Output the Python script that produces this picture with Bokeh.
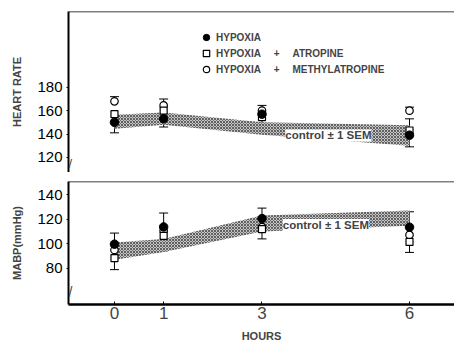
from bokeh.plotting import figure
from bokeh.models import (FixedTicker, Span, Label, Legend, LegendItem, Whisker,
                          TeeHead, ColumnDataSource, Range1d)
from bokeh.layouts import column
from bokeh.embed import file_html
from bokeh.resources import INLINE

# ---------------- data ----------------
hours = [0, 1, 3, 6]
hour_ticks = [0, 1, 3, 6]
hr_ticks = [120, 140, 160, 180]
mabp_ticks = [80, 100, 120, 140]

legend_labels = ["HYPOXIA",
                 "HYPOXIA\u2003 + \u2003ATROPINE",
                 "HYPOXIA\u2003 + \u2003METHYLATROPINE"]
control_label = "control \u00b1 1 SEM"

# Heart rate (beats/min)
hr_control_mean = [150.5, 153.2, 144.7, 138.7]
hr_control_sem = [6.0, 5.2, 5.3, 8.7]
hr_hypoxia = [150, 153, 157, 139]
hr_hypoxia_sem = [9, 7, 12.5, 10]          # drawn downward
hr_atropine = [157, 160, 154.5, 143]
hr_atropine_sem = [0, 0, 0, 10]            # drawn upward
hr_methyl = [168, 164.5, 160, 160]
hr_methyl_sem = [4, 5.5, 4.5, 3]           # drawn upward

# Mean arterial blood pressure (mmHg)
mabp_control_mean = [94.0, 98.6, 116.5, 120.8]
mabp_control_sem = [7.0, 5.2, 6.5, 6.2]
mabp_hypoxia = [99.7, 113.7, 120.5, 113.5]
mabp_hypoxia_sem = [9, 11.3, 8.5, 12.5]    # drawn upward
mabp_atropine = [88.4, 106.5, 112, 101.5]
mabp_atropine_sem = [9.4, 12.2, 8, 8.5]    # drawn downward
mabp_methyl = [95, 110.6, 113.5, 107.2]
mabp_methyl_sem = [0, 0, 0, 0]

# ---------------- styling helpers ----------------
TICK_FONT = "Liberation Sans Narrow, Liberation Sans, sans-serif"
LABEL_FONT = "Liberation Sans"
W = 454

x_range = Range1d(-0.935, 6.915)


def make_fig(height, y_range, top_border, bottom_border, has_x):
    p = figure(width=W, height=height, x_range=x_range, y_range=y_range,
               output_backend="svg", toolbar_location=None,
               x_axis_location="below" if has_x else None,
               min_border_left=68, min_border_right=0,
               min_border_top=top_border, min_border_bottom=bottom_border,
               outline_line_color=None, background_fill_color="white")
    p.grid.visible = False
    return p


def style_y(p, label, ticks):
    ax = p.yaxis[0]
    ax.ticker = FixedTicker(ticks=ticks)
    ax.axis_label = label
    ax.axis_label_text_font = LABEL_FONT
    ax.axis_label_text_font_style = "bold"
    ax.axis_label_text_font_size = "11px"
    ax.axis_label_standoff = 11
    ax.major_label_text_font = TICK_FONT
    ax.major_label_text_font_size = "15px"
    ax.major_label_text_color = "black"
    ax.major_label_standoff = 4
    ax.major_tick_out = 2
    ax.major_tick_in = 0
    ax.minor_tick_line_color = None
    ax.axis_line_width = 2
    ax.axis_line_color = "black"
    ax.major_tick_line_color = "black"


def add_err(p, values, sems, direction):
    xs = [h for h, s in zip(hours, sems) if s > 0]
    vs = [v for v, s in zip(values, sems) if s > 0]
    ss = [s for s in sems if s > 0]
    if not xs:
        return
    if direction > 0:
        lo, hi = vs, [v + s for v, s in zip(vs, ss)]
        w = Whisker(source=ColumnDataSource(dict(x=xs, lo=lo, hi=hi)),
                    base="x", lower="lo", upper="hi", line_width=1, line_color="black",
                    lower_head=None,
                    upper_head=TeeHead(size=9, line_width=1, line_color="black"))
    else:
        lo, hi = [v - s for v, s in zip(vs, ss)], vs
        w = Whisker(source=ColumnDataSource(dict(x=xs, lo=lo, hi=hi)),
                    base="x", lower="lo", upper="hi", line_width=1, line_color="black",
                    upper_head=None,
                    lower_head=TeeHead(size=9, line_width=1, line_color="black"))
    p.add_layout(w)


def draw_panel(p, c_mean, c_sem, hyp, hyp_sem, hyp_dir, atr, atr_sem, atr_dir,
               met, met_sem, met_dir, lab_x, lab_y):
    lo = [m - s for m, s in zip(c_mean, c_sem)]
    hi = [m + s for m, s in zip(c_mean, c_sem)]
    p.varea(x=hours, y1=lo, y2=hi, fill_color="#c4c4c4",
            hatch_pattern="x", hatch_color="#1e1e1e", hatch_scale=3, hatch_weight=0.6)
    add_err(p, hyp, hyp_sem, hyp_dir)
    add_err(p, atr, atr_sem, atr_dir)
    add_err(p, met, met_sem, met_dir)
    r_met = p.scatter(hours, met, marker="circle", size=7.5, fill_color="white",
                      line_color="black", line_width=1.2)
    r_atr = p.scatter(hours, atr, marker="square", size=7, fill_color="white",
                      line_color="black", line_width=1.2)
    r_hyp = p.scatter(hours, hyp, marker="circle", size=8.5, fill_color="black",
                      line_color="black")
    p.add_layout(Label(x=lab_x, y=lab_y, text=control_label, text_align="center",
                       text_baseline="middle", text_font=LABEL_FONT,
                       text_font_style="bold", text_font_size="11.5px",
                       background_fill_color="white"))
    # top border line of the panel
    p.add_layout(Span(location=p.y_range.end, dimension="width",
                      line_color="black", line_width=1.5))
    return r_hyp, r_atr, r_met


# ---------------- top panel: heart rate ----------------
top = make_fig(172, Range1d(107, 245), 11, 0, False)
style_y(top, "HEART RATE", hr_ticks)
r_hyp, r_atr, r_met = draw_panel(top, hr_control_mean, hr_control_sem,
                                 hr_hypoxia, hr_hypoxia_sem, -1,
                                 hr_atropine, hr_atropine_sem, +1,
                                 hr_methyl, hr_methyl_sem, +1, 4.35, 138.8)
legend = Legend(items=[LegendItem(label=legend_labels[0], renderers=[r_hyp]),
                       LegendItem(label=legend_labels[1], renderers=[r_atr]),
                       LegendItem(label=legend_labels[2], renderers=[r_met])],
                location=(130, 95), padding=0, margin=0, spacing=0,
                glyph_width=16, glyph_height=16, label_height=16, label_standoff=2,
                border_line_color=None, background_fill_alpha=0,
                label_text_font=LABEL_FONT, label_text_font_style="bold",
                label_text_font_size="10px")
top.add_layout(legend)
top.add_layout(Label(x=x_range.start, y=top.y_range.start + 8, text="//",
                     text_align="center", text_baseline="middle",
                     text_font=LABEL_FONT, text_font_size="13px"))

# ---------------- bottom panel: MABP ----------------
bot = make_fig(175, Range1d(50.7, 150.6), 9, 43, True)
style_y(bot, "MABP(mmHg)", mabp_ticks)
draw_panel(bot, mabp_control_mean, mabp_control_sem,
           mabp_hypoxia, mabp_hypoxia_sem, +1,
           mabp_atropine, mabp_atropine_sem, -1,
           mabp_methyl, mabp_methyl_sem, +1, 4.3, 115.2)
bot.add_layout(Label(x=x_range.start, y=61, text="//",
                     text_align="center", text_baseline="middle",
                     text_font=LABEL_FONT, text_font_size="14px"))
xa = bot.xaxis[0]
xa.ticker = FixedTicker(ticks=hour_ticks)
xa.axis_label = "HOURS"
xa.axis_label_text_font = LABEL_FONT
xa.axis_label_text_font_style = "bold"
xa.axis_label_text_font_size = "11px"
xa.axis_label_standoff = 8
xa.major_label_text_font = TICK_FONT
xa.major_label_text_font_size = "17px"
xa.major_label_standoff = 2
xa.major_tick_out = 0
xa.major_tick_in = 3
xa.minor_tick_line_color = None
xa.axis_line_width = 2.5
xa.axis_line_color = "black"

layout = column(top, bot, spacing=0)
open("out.html", "w").write(file_html(layout, INLINE))
